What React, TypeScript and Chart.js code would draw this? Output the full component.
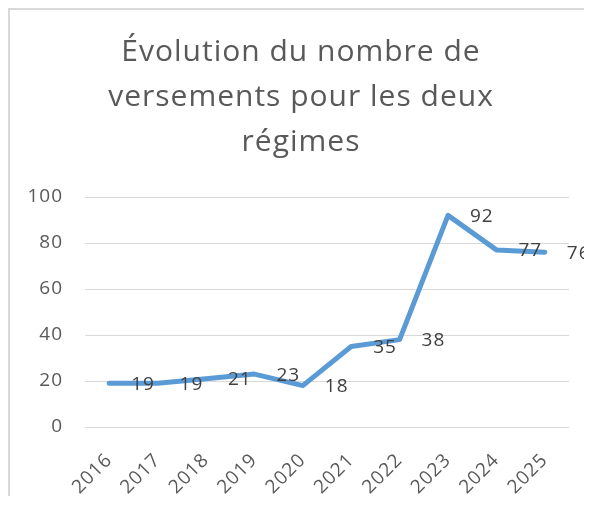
import React, { useEffect, useRef } from "react";
import { Chart, registerables } from "chart.js";

Chart.register(...registerables);

const years = ["2016", "2017", "2018", "2019", "2020", "2021", "2022", "2023", "2024", "2025"];
const versements = [19, 19, 21, 23, 18, 35, 38, 92, 77, 76];
const titleLines = ["Évolution du nombre de", "versements pour les deux", "régimes"];
const yMin = 0;
const yMax = 100;
const yStep = 20;

const FONT = "'Open Sans'";
const TEXT = "#595959";

const spacing = {
  id: "spacing",
  beforeDraw(chart: any) {
    (chart.ctx as any).letterSpacing = "1px";
  },
  afterDraw(chart: any) {
    (chart.ctx as any).letterSpacing = "0px";
  },
};

const rightLabels = {
  id: "rightLabels",
  afterDatasetsDraw(chart: any) {
    const ctx = chart.ctx;
    const meta = chart.getDatasetMeta(0);
    const data = chart.data.datasets[0].data;
    ctx.save();
    ctx.font = `19px ${FONT}`;
    ctx.fillStyle = "#404040";
    ctx.textAlign = "left";
    ctx.textBaseline = "middle";
    meta.data.forEach((pt: any, i: number) => {
      ctx.fillText(String(data[i]), pt.x + 22, pt.y + 1);
    });
    ctx.restore();
  },
};

export default function App() {
  const ref = useRef<HTMLCanvasElement>(null);
  useEffect(() => {
    const chart = new Chart(ref.current as HTMLCanvasElement, {
      type: "line",
      data: {
        labels: years,
        datasets: [
          {
            data: versements,
            borderColor: "#5B9BD5",
            borderWidth: 5,
            borderCapStyle: "round",
            borderJoinStyle: "round",
            pointRadius: 0,
            tension: 0,
            fill: false,
            yAxisID: "y",
          },
        ],
      },
      options: {
        animation: false,
        responsive: false,
        layout: { padding: 0 },
        plugins: {
          legend: { display: false },
          tooltip: { enabled: false },
          title: {
            display: true,
            text: titleLines,
            color: TEXT,
            font: { family: FONT, size: 30, weight: "normal", lineHeight: 1.5 },
            padding: { top: 20, bottom: 32 },
          },
        },
        scales: {
          x: {
            offset: true,
            grid: { display: false, drawTicks: false },
            border: { display: false },
            ticks: {
              color: TEXT,
              font: { family: FONT, size: 19 },
              minRotation: 45,
              maxRotation: 45,
              autoSkip: false,
              padding: 22,
            },
            afterFit: (s: any) => {
              s.height = 69;
            },
          },
          y: {
            min: yMin,
            max: yMax,
            ticks: { stepSize: yStep, color: TEXT, font: { family: FONT, size: 19 }, padding: 22 },
            grid: { color: "#d9d9d9", lineWidth: 1, drawTicks: false },
            border: { display: false },
            afterFit: (s: any) => {
              s.width = 75;
            },
          },
          yRight: {
            type: "linear",
            position: "right",
            min: yMin,
            max: yMax,
            grid: { display: false, drawTicks: false },
            border: { display: false },
            ticks: { display: false },
            afterFit: (s: any) => {
              s.width = 23;
            },
          },
        },
      },
      plugins: [spacing, rightLabels],
    });
    return () => chart.destroy();
  }, []);
  return (
    <div
      style={{
        width: 584,
        height: 488,
        boxSizing: "border-box",
        borderTop: "2px solid #d9d9d9",
        borderLeft: "2px solid #d9d9d9",
        background: "#fff",
      }}
    >
      <canvas ref={ref} width={582} height={486} style={{ display: "block" }} />
    </div>
  );
}
